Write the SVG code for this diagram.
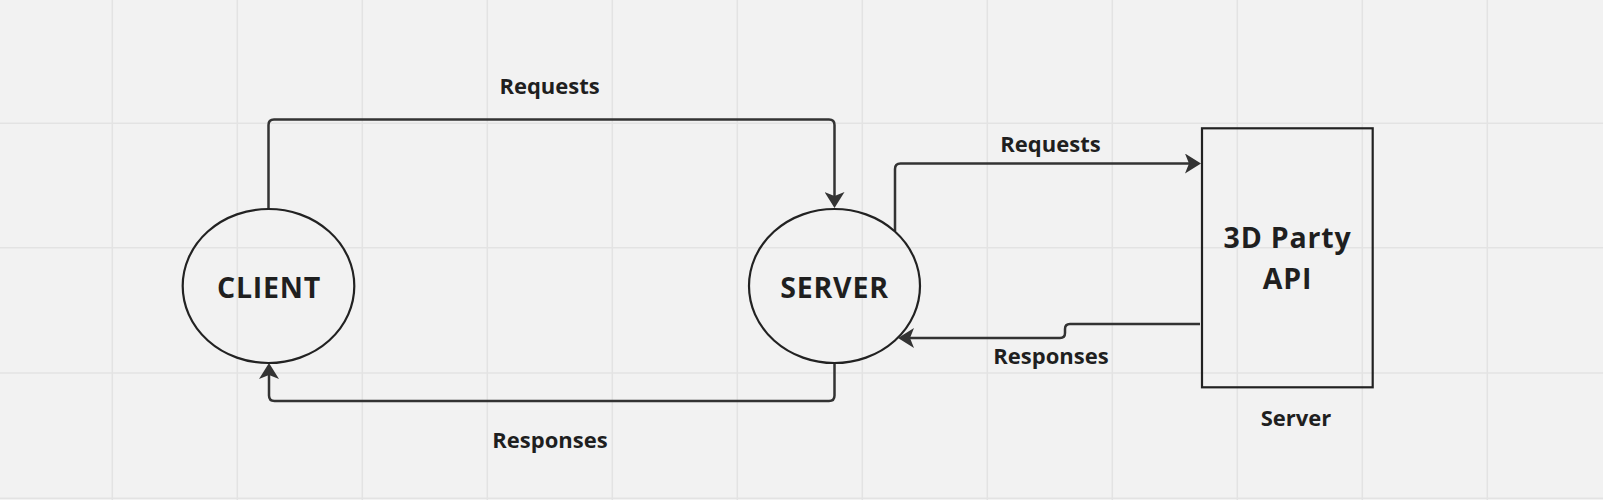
<svg xmlns="http://www.w3.org/2000/svg" width="1603" height="500" viewBox="0 0 1603 500">
<style>
.grid line{stroke:#e3e3e3;stroke-width:1.5}
.node{fill:none;stroke:#222;stroke-width:2.2}
.conn path{fill:none;stroke:#333;stroke-width:2.5}
.title{font-family:"Open Sans","Noto Sans",sans-serif;font-weight:700;font-size:28.5px;letter-spacing:0.8px;fill:#1f1f1f;text-anchor:middle}
.lbl{font-family:"Open Sans","Noto Sans",sans-serif;font-weight:700;font-size:22px;fill:#1f1f1f;text-anchor:middle}
</style>
<defs>
<marker id="arr" viewBox="0 0 16 20" refX="12" refY="10" markerWidth="16" markerHeight="20" markerUnits="userSpaceOnUse" orient="auto">
<path d="M0,0 L16,10 L0,20 L4,10 Z" fill="#333"/>
</marker>
</defs>
<rect width="1603" height="500" fill="#f2f2f2"/>
<g class="grid">
<line x1="112.3" y1="0" x2="112.3" y2="500"/>
<line x1="237.3" y1="0" x2="237.3" y2="500"/>
<line x1="362.3" y1="0" x2="362.3" y2="500"/>
<line x1="487.3" y1="0" x2="487.3" y2="500"/>
<line x1="612.3" y1="0" x2="612.3" y2="500"/>
<line x1="737.3" y1="0" x2="737.3" y2="500"/>
<line x1="862.3" y1="0" x2="862.3" y2="500"/>
<line x1="987.3" y1="0" x2="987.3" y2="500"/>
<line x1="1112.3" y1="0" x2="1112.3" y2="500"/>
<line x1="1237.3" y1="0" x2="1237.3" y2="500"/>
<line x1="1362.3" y1="0" x2="1362.3" y2="500"/>
<line x1="1487.3" y1="0" x2="1487.3" y2="500"/>
<line x1="0" y1="123.3" x2="1603" y2="123.3"/>
<line x1="0" y1="247.8" x2="1603" y2="247.8"/>
<line x1="0" y1="373" x2="1603" y2="373"/>
<line x1="0" y1="498.3" x2="1603" y2="498.3"/>
</g>
<g class="conn" id="connectors">
<path d="M268.5,208 V125 Q268.5,119.5 274,119.5 H829 Q834.5,119.5 834.5,125 V204" marker-end="url(#arr)"/>
<path d="M834.5,364 V395.5 Q834.5,401 829,401 H274.5 Q269,401 269,395.5 V367" marker-end="url(#arr)"/>
<path d="M895,231 V169 Q895,163.5 900.5,163.5 H1197" marker-end="url(#arr)"/>
<path d="M1200,324 H1070 Q1065,324 1065,329 V333 Q1065,338 1060,338 H902" marker-end="url(#arr)"/>
<text class="lbl" x="549.6" y="94">Requests</text>
<text class="lbl" x="1050.5" y="152">Requests</text>
<text class="lbl" x="1051" y="364">Responses</text>
<text class="lbl" x="550" y="448">Responses</text>
</g>
<g id="client">
<ellipse class="node" cx="268.5" cy="286" rx="85.8" ry="77"/>
<text class="title" x="269" y="298">CLIENT</text>
</g>
<g id="server">
<ellipse class="node" cx="834.5" cy="286" rx="85.5" ry="77"/>
<text class="title" x="834.5" y="298">SERVER</text>
</g>
<g id="api">
<rect class="node" x="1202" y="128.3" width="170.7" height="259" stroke-width="2.6"/>
<text class="title" x="1287.5" y="248">3D Party</text>
<text class="title" x="1287.5" y="289">API</text>
<text class="lbl" x="1296" y="426">Server</text>
</g>
</svg>
